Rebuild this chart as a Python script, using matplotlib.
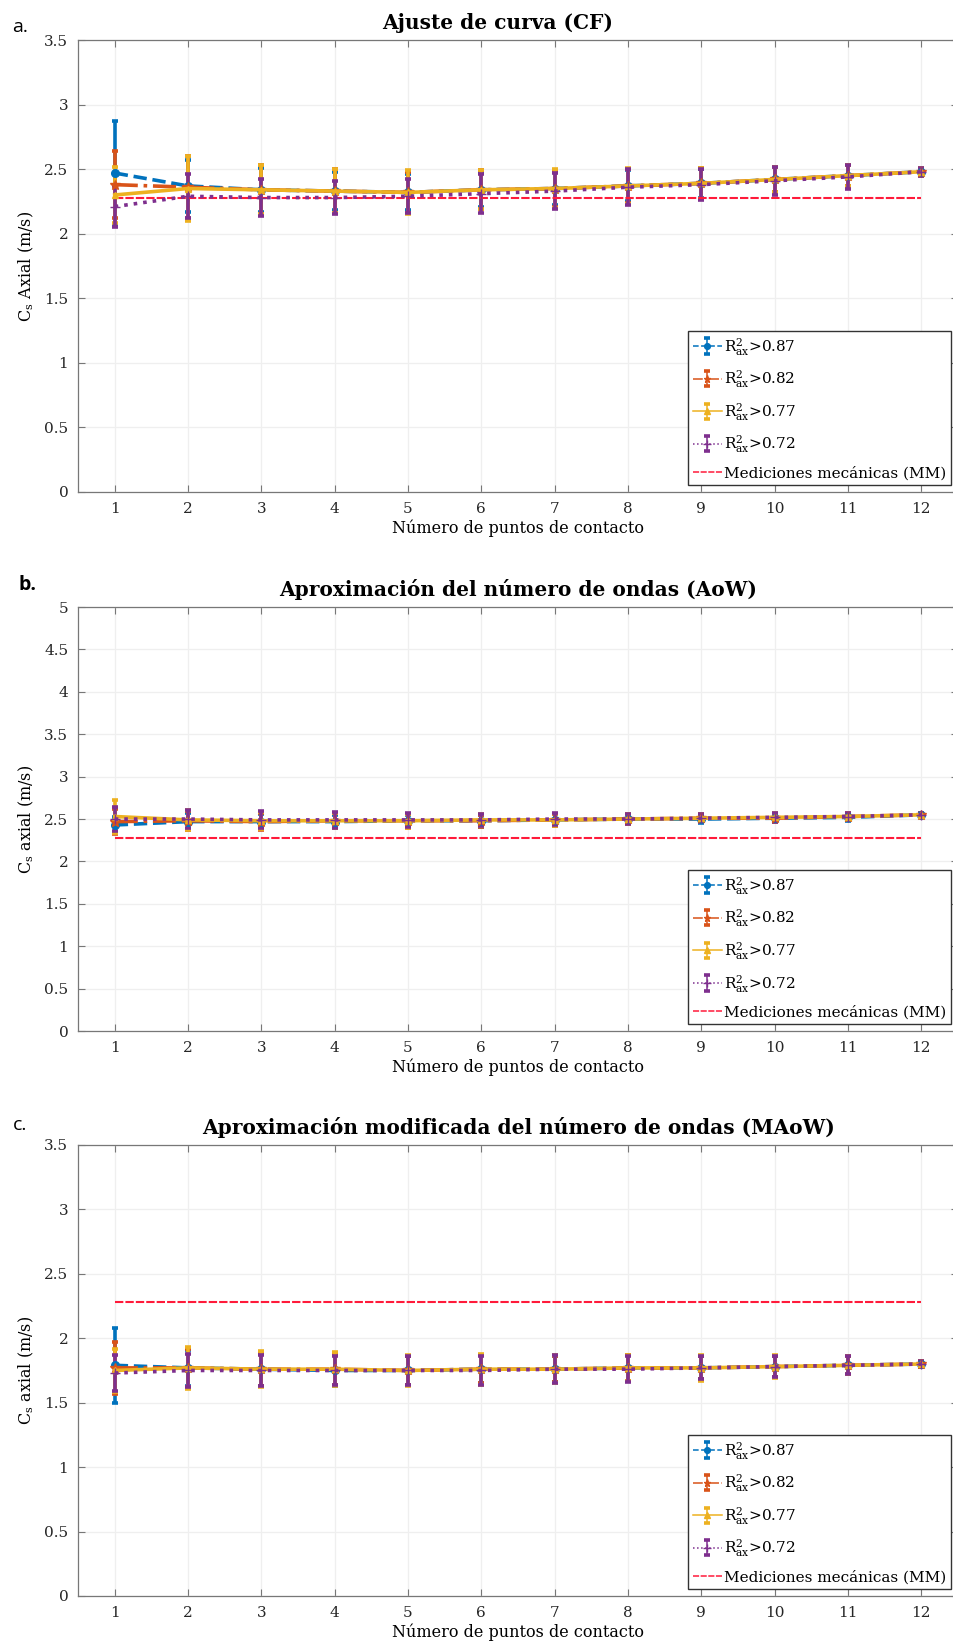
import numpy as np
import matplotlib.pyplot as plt
from matplotlib.container import ErrorbarContainer
from matplotlib.legend_handler import HandlerErrorbar, HandlerLine2D
from matplotlib.lines import Line2D

plt.rcParams['font.family'] = ['DejaVu Serif']
plt.rcParams['mathtext.fontset'] = 'dejavuserif'

## numero de puntos de contacto
npc = np.arange(1, 13)
etiquetas = ['R$^{2}_{\\rm ax}$>0.87', 'R$^{2}_{\\rm ax}$>0.82',
             'R$^{2}_{\\rm ax}$>0.77', 'R$^{2}_{\\rm ax}$>0.72']
MM = [2.28]*12  # mediciones mecanicas

## a. ajuste de curva (CF)
cf_087 = [2.47, 2.37, 2.34, 2.33, 2.32, 2.34, 2.35, 2.37, 2.39, 2.42, 2.45, 2.48]
cf_082 = [2.38, 2.36, 2.34, 2.33, 2.32, 2.34, 2.35, 2.37, 2.39, 2.42, 2.45, 2.48]
cf_077 = [2.30, 2.35, 2.34, 2.33, 2.32, 2.34, 2.35, 2.37, 2.39, 2.42, 2.45, 2.48]
cf_072 = [2.21, 2.29, 2.28, 2.28, 2.29, 2.31, 2.33, 2.36, 2.38, 2.41, 2.44, 2.48]
cf_e087 = [0.40, 0.20, 0.17, 0.15, 0.14, 0.13, 0.13, 0.12, 0.11, 0.10, 0.08, 0.03]
cf_e082 = [0.26, 0.24, 0.19, 0.17, 0.16, 0.15, 0.14, 0.13, 0.12, 0.10, 0.08, 0.03]
cf_e077 = [0.22, 0.25, 0.19, 0.17, 0.17, 0.15, 0.15, 0.14, 0.12, 0.10, 0.08, 0.03]
cf_e072 = [0.16, 0.17, 0.14, 0.13, 0.13, 0.15, 0.14, 0.14, 0.12, 0.11, 0.09, 0.03]

## b. aproximacion del numero de ondas (AoW)
aow_087 = [2.43, 2.47, 2.47, 2.47, 2.48, 2.48, 2.49, 2.50, 2.50, 2.51, 2.52, 2.55]
aow_082 = [2.47, 2.48, 2.47, 2.48, 2.48, 2.48, 2.49, 2.50, 2.51, 2.51, 2.53, 2.55]
aow_077 = [2.53, 2.49, 2.48, 2.48, 2.48, 2.49, 2.49, 2.50, 2.51, 2.52, 2.53, 2.55]
aow_072 = [2.50, 2.50, 2.49, 2.49, 2.49, 2.49, 2.50, 2.50, 2.51, 2.52, 2.53, 2.55]
aow_e087 = [0.10, 0.10, 0.09, 0.08, 0.07, 0.07, 0.07, 0.06, 0.05, 0.05, 0.04, 0.02]
aow_e082 = [0.15, 0.11, 0.10, 0.09, 0.08, 0.07, 0.07, 0.06, 0.05, 0.05, 0.04, 0.02]
aow_e077 = [0.20, 0.12, 0.10, 0.09, 0.08, 0.07, 0.07, 0.06, 0.05, 0.05, 0.04, 0.02]
aow_e072 = [0.14, 0.11, 0.10, 0.09, 0.08, 0.07, 0.07, 0.06, 0.05, 0.05, 0.04, 0.02]

## c. aproximacion modificada del numero de ondas (MAoW)
maow_087 = [1.79, 1.77, 1.76, 1.75, 1.75, 1.76, 1.76, 1.77, 1.77, 1.78, 1.79, 1.80]
maow_082 = [1.77, 1.77, 1.76, 1.76, 1.75, 1.76, 1.76, 1.77, 1.77, 1.78, 1.79, 1.80]
maow_077 = [1.75, 1.77, 1.76, 1.76, 1.75, 1.76, 1.76, 1.77, 1.77, 1.78, 1.79, 1.80]
maow_072 = [1.73, 1.75, 1.75, 1.75, 1.75, 1.75, 1.76, 1.76, 1.77, 1.78, 1.79, 1.80]
maow_e087 = [0.29, 0.14, 0.13, 0.12, 0.11, 0.11, 0.10, 0.10, 0.09, 0.08, 0.07, 0.02]
maow_e082 = [0.20, 0.15, 0.13, 0.12, 0.11, 0.11, 0.10, 0.10, 0.09, 0.08, 0.07, 0.02]
maow_e077 = [0.17, 0.16, 0.14, 0.13, 0.12, 0.12, 0.11, 0.10, 0.10, 0.09, 0.07, 0.02]
maow_e072 = [0.14, 0.13, 0.12, 0.11, 0.11, 0.11, 0.11, 0.10, 0.09, 0.08, 0.07, 0.02]

colores = ['#0072BD', '#D95319', '#EDB120', '#7E2F8E']
estilos = ['--', '-.', '-', ':']
marcas = ['.', '*', '^', '+']
tamanos = [11, 7, 5, 7]


def fino(h_leg, h_orig):
    # copia el estilo y deja las lineas delgadas en la leyenda
    h_leg.update_from(h_orig)
    h_leg.set_linewidth(1.1)
    if isinstance(h_leg, Line2D):
        h_leg.set_markersize(h_leg.get_markersize()*0.75)


def panel(ax, series, errores, titulo, ylabel, ylim, yticks, tx=0.5):
    for k in range(4):
        ax.errorbar(npc, series[k], yerr=errores[k], color=colores[k],
                    ls=estilos[k], marker=marcas[k], ms=tamanos[k], lw=2.6,
                    elinewidth=2.6, capsize=2.5, capthick=2.6, label=etiquetas[k])
    ax.plot(npc, MM, '--', color='#FF1A3A', lw=1.5, dashes=(4, 1),
            label='Mediciones mecánicas (MM)')
    ax.set_xlim(0.5, 12.5)
    ax.set_ylim(ylim)
    ax.set_xticks(npc)
    ax.set_yticks(yticks)
    ax.set_yticklabels(['%g' % t for t in yticks])
    ax.grid(True, color='#EFEFEF', lw=0.9)
    ax.set_axisbelow(True)
    ax.tick_params(direction='in', top=True, right=True, length=5,
                   color='#777777', labelsize=11, labelcolor='#262626', pad=7)
    for s in ax.spines.values():
        s.set_color('#777777')
        s.set_linewidth(0.9)
    ax.set_title(titulo, fontsize=14.5, fontweight='bold', x=tx, pad=8)
    ax.set_xlabel('Número de puntos de contacto', fontsize=11.5, labelpad=3)
    ax.set_ylabel(ylabel, fontsize=11.5, labelpad=6)
    # la linea MM va al final de la leyenda
    h, l = ax.get_legend_handles_labels()
    h = h[1:] + h[:1]
    l = l[1:] + l[:1]
    ax.legend(h, l, loc='lower right', fontsize=11, handlelength=1.9,
              handletextpad=0.15, labelspacing=0.7, borderpad=0.3,
              borderaxespad=0.45, fancybox=False, framealpha=1,
              edgecolor='#333333',
              handler_map={ErrorbarContainer: HandlerErrorbar(update_func=fino),
                           Line2D: HandlerLine2D(update_func=fino)})


fig = plt.figure(figsize=(9.54, 16.47), dpi=100)
ax1 = fig.add_axes([0.0818, 0.7013, 0.9224, 0.2744])
ax2 = fig.add_axes([0.0818, 0.3740, 0.9224, 0.2574])
ax3 = fig.add_axes([0.0818, 0.0310, 0.9224, 0.2738])

panel(ax1, [cf_087, cf_082, cf_077, cf_072],
      [cf_e087, cf_e082, cf_e077, cf_e072],
      'Ajuste de curva (CF)', 'C$_{\\rm s}$ Axial (m/s)',
      (0, 3.5), np.arange(0, 3.51, 0.5), tx=0.477)
panel(ax2, [aow_087, aow_082, aow_077, aow_072],
      [aow_e087, aow_e082, aow_e077, aow_e072],
      'Aproximación del número de ondas (AoW)', 'C$_{\\rm s}$ axial (m/s)',
      (0, 5), np.arange(0, 5.01, 0.5))
panel(ax3, [maow_087, maow_082, maow_077, maow_072],
      [maow_e087, maow_e082, maow_e077, maow_e072],
      'Aproximación modificada del número de ondas (MAoW)', 'C$_{\\rm s}$ axial (m/s)',
      (0, 3.5), np.arange(0, 3.51, 0.5))

## letras de los paneles
fig.text(0.013, 1 - 27/1647, 'a.', fontsize=14, family='Open Sans', va='center')
fig.text(0.019, 1 - 585/1647, 'b.', fontsize=14, family='Open Sans',
         fontweight='bold', va='center')
fig.text(0.013, 1 - 1125/1647, 'c.', fontsize=14, family='Open Sans', va='center')

plt.savefig('out.png', dpi=100)
